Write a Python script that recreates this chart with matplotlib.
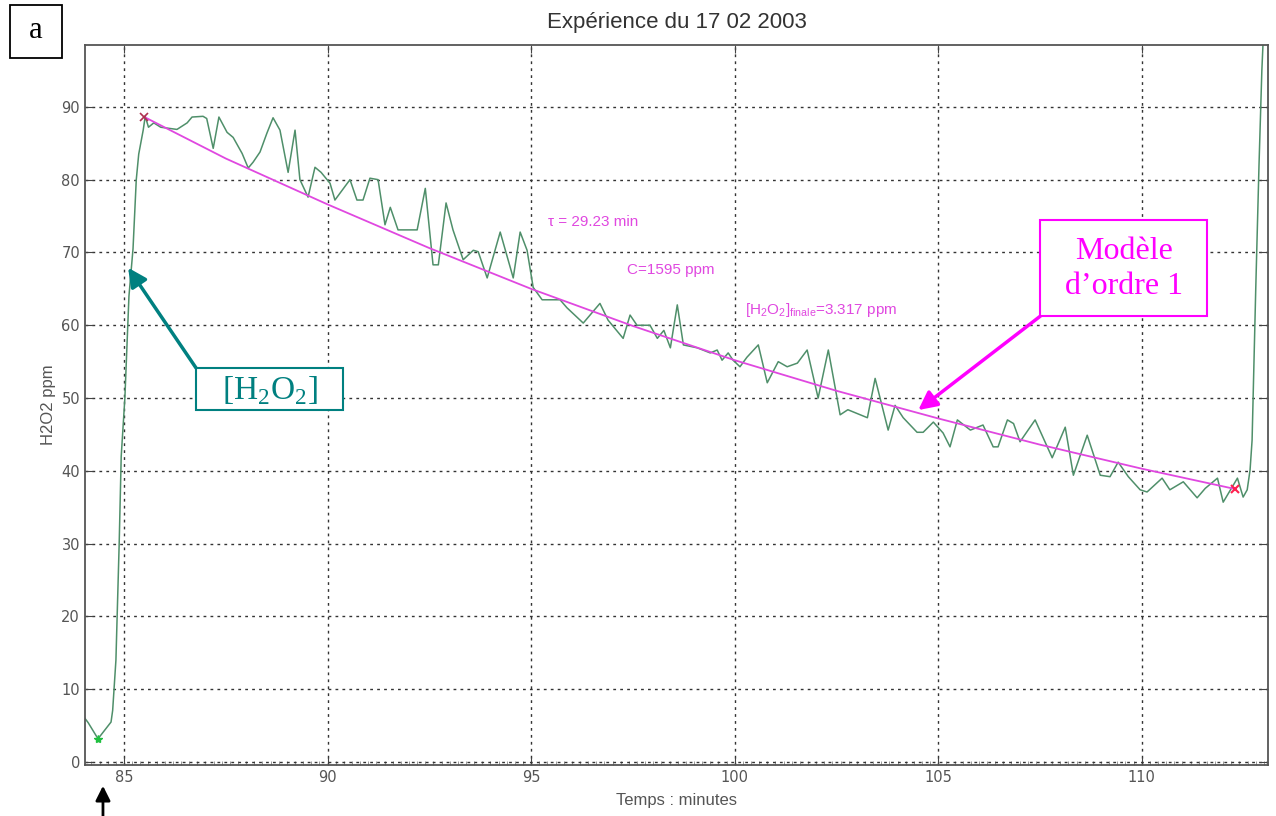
import matplotlib.pyplot as plt
import numpy as np
from matplotlib.patches import Rectangle
from matplotlib.ticker import MultipleLocator

plt.rcParams["mathtext.fontset"] = "custom"
plt.rcParams["mathtext.rm"] = "Liberation Serif"
plt.rcParams["mathtext.sf"] = "Liberation Sans"

# H2O2 signal (minutes, ppm)
temps = [84.04, 84.12, 84.36, 84.68, 84.72, 84.80, 84.88, 84.93, 85.02, 85.12,
         85.22, 85.30, 85.36, 85.47, 85.52, 85.60, 85.73, 85.90, 86.30, 86.55,
         86.67, 86.94, 87.03, 87.19, 87.33, 87.53, 87.68, 87.90, 88.05, 88.17,
         88.34, 88.51, 88.66, 88.83, 89.03, 89.20, 89.32, 89.52, 89.69, 89.84,
         90.06, 90.18, 90.55, 90.72, 90.87, 91.04, 91.24, 91.41, 91.54, 91.73,
         92.20, 92.40, 92.59, 92.72, 92.91, 93.08, 93.33, 93.58, 93.70, 93.92,
         94.24, 94.56, 94.73, 94.90, 95.05, 95.27, 95.71, 95.88, 96.28, 96.69,
         96.89, 97.26, 97.43, 97.60, 97.92, 98.10, 98.26, 98.42, 98.59, 98.74,
         99.08, 99.40, 99.57, 99.69, 99.84, 99.96, 100.13, 100.30, 100.58, 100.80,
         101.07, 101.29, 101.54, 101.78, 102.05, 102.30, 102.59, 102.78, 103.26, 103.45,
         103.77, 103.94, 104.14, 104.48, 104.63, 104.88, 105.12, 105.29, 105.47, 105.79,
         106.10, 106.35, 106.47, 106.70, 106.85, 107.01, 107.38, 107.80, 108.12, 108.32,
         108.66, 108.98, 109.22, 109.42, 109.67, 109.96, 110.13, 110.50, 110.69, 111.02,
         111.36, 111.56, 111.86, 112.00, 112.35, 112.49, 112.59, 112.66, 112.71, 112.74,
         112.80, 112.88, 112.95, 113.02]
h2o2 = [6.0, 5.4, 3.2, 5.5, 7.1, 14.0, 30.0, 42.0, 50.0, 64.0,
        70.5, 80.0, 83.5, 86.8, 88.7, 87.2, 87.8, 87.2, 86.9, 87.8,
        88.6, 88.7, 88.4, 84.3, 88.6, 86.5, 85.8, 83.6, 81.6, 82.4,
        83.8, 86.4, 88.5, 86.8, 81.0, 86.8, 80.0, 77.6, 81.7, 81.0,
        79.5, 77.2, 80.0, 77.2, 77.2, 80.2, 80.0, 73.8, 76.2, 73.1,
        73.1, 78.8, 68.3, 68.3, 76.8, 73.1, 69.0, 70.3, 70.1, 66.5,
        72.8, 66.5, 72.8, 70.3, 65.2, 63.5, 63.5, 62.4, 60.3, 63.0,
        60.7, 58.2, 61.4, 60.0, 60.0, 58.2, 59.3, 56.9, 62.8, 57.3,
        56.9, 56.2, 56.6, 55.2, 56.2, 55.2, 54.3, 55.6, 57.3, 52.1,
        55.0, 54.3, 54.8, 56.6, 50.0, 56.6, 47.7, 48.4, 47.3, 52.7,
        45.6, 49.0, 47.3, 45.3, 45.3, 46.7, 45.2, 43.3, 47.0, 45.6,
        46.3, 43.3, 43.3, 47.0, 46.5, 44.0, 47.0, 41.8, 46.0, 39.4,
        44.9, 39.4, 39.2, 41.2, 39.2, 37.4, 37.1, 39.0, 37.4, 38.5,
        36.3, 37.6, 39.0, 35.7, 39.0, 36.4, 37.4, 40.1, 44.2, 51.1,
        65.0, 82.0, 95.0, 104.0]

# first order model curve
model_t = [85.5, 87.5, 90.0, 92.5, 95.0, 97.5, 100.0, 102.5, 105.0, 107.5, 110.0, 112.3]
model_c = [88.6, 82.9, 76.6, 70.6, 65.0, 59.9, 55.2, 51.0, 47.2, 43.6, 40.3, 37.5]

x_ticks = [85, 90, 95, 100, 105, 110]
y_ticks = [0, 10, 20, 30, 40, 50, 60, 70, 80, 90]

green = "#4f8f6a"
magenta = "#e048e0"
teal = "#008080"
pink = "#ff00ff"

fig = plt.figure(figsize=(12.76, 8.16), dpi=100)
ax = fig.add_axes([0.0666, 0.0625, 0.9271, 0.8824])

ax.plot(temps, h2o2, color=green, lw=1.1)
ax.plot(model_t, model_c, color=magenta, lw=1.3)
ax.plot(model_t[0], model_c[0], marker="x", color="#b03050", ms=6, mew=1.2)
ax.plot(model_t[-1], model_c[-1], marker="x", color="#ff2050", ms=6, mew=1.5)
ax.plot(temps[2], h2o2[2], marker="*", color="#20c040", ms=6)

ax.set_xlim(84.04, 113.1)
ax.set_ylim(-0.4, 98.5)
ax.set_xticks(x_ticks)
ax.set_yticks(y_ticks)
ax.xaxis.set_minor_locator(MultipleLocator(0.2))
ax.tick_params(which="major", direction="in", length=6, color="#444",
               labelsize=10.5, labelcolor="#555", top=True, right=True)
ax.tick_params(which="minor", direction="in", length=3, color="#888",
               top=False, right=False)
ax.tick_params(axis="y", which="minor", left=False)
for s in ax.spines.values():
    s.set_color("#555")
    s.set_linewidth(1.3)
ax.grid(True, which="major", color="#333", linestyle=(0, (2, 3)), lw=1.0)

ax.set_title("Expérience du 17 02 2003", fontsize=16, color="#333", pad=12,
             family="Liberation Sans")
ax.set_xlabel("Temps : minutes", fontsize=12, color="#555", labelpad=6,
              family="Liberation Sans")
ax.set_ylabel("H2O2 ppm", fontsize=12, color="#555", labelpad=4,
              family="Liberation Sans")

# model parameters
ax.text(95.42, 74.2, "τ = 29.23 min", color=magenta, fontsize=11,
        family="Liberation Sans", va="center")
ax.text(97.36, 67.6, "C=1595 ppm", color=magenta, fontsize=11,
        family="Liberation Sans", va="center")
ax.text(100.26, 62.1, r"$\mathsf{[H_2O_2]_{finale}}$=3.317 ppm",
        color=magenta, fontsize=11, family="Liberation Sans", va="center")

# call-out boxes
ax.add_patch(Rectangle((86.77, 48.35), 90.38 - 86.77, 54.12 - 48.35,
                       fc="white", ec=teal, lw=1.5, zorder=5))
ax.text((86.77 + 90.38) / 2, 51.0, r"[H$_\mathrm{2}$O$_\mathrm{2}$]", fontsize=24,
        color=teal, family="Liberation Serif", ha="center", va="center", zorder=6)
ax.annotate("", xy=(85.10, 67.9), xytext=(86.77, 54.12),
            arrowprops=dict(arrowstyle="-|>", color=teal, lw=2.5,
                            mutation_scale=28, shrinkA=0, shrinkB=0))

ax.add_patch(Rectangle((107.51, 61.26), 111.61 - 107.51, 74.45 - 61.26,
                       fc="white", ec=pink, lw=1.5, zorder=5))
ax.text((107.51 + 111.61) / 2, 67.7, "Modèle\nd’ordre 1", fontsize=23,
        color=pink, family="Liberation Serif", ha="center", va="center",
        linespacing=1.25, zorder=6)
ax.annotate("", xy=(104.51, 48.35), xytext=(107.51, 61.26),
            arrowprops=dict(arrowstyle="-|>", color=pink, lw=2.5,
                            mutation_scale=28, shrinkA=0, shrinkB=0))

fig.patches.append(Rectangle((10 / 1276, 1 - 58 / 816), 52 / 1276, 53 / 816,
                             transform=fig.transFigure, fc="white", ec="black",
                             lw=1.3))
fig.text(36 / 1276, 1 - 30 / 816, "a", fontsize=22, family="Liberation Serif",
         ha="center", va="center")
ax.annotate("", xy=(0.0807, 0.037), xytext=(0.0807, -0.01),
            xycoords="figure fraction", textcoords="figure fraction",
            arrowprops=dict(arrowstyle="-|>", color="black", lw=2,
                            mutation_scale=22, shrinkA=0, shrinkB=0))

plt.savefig("out.png", dpi=100)
